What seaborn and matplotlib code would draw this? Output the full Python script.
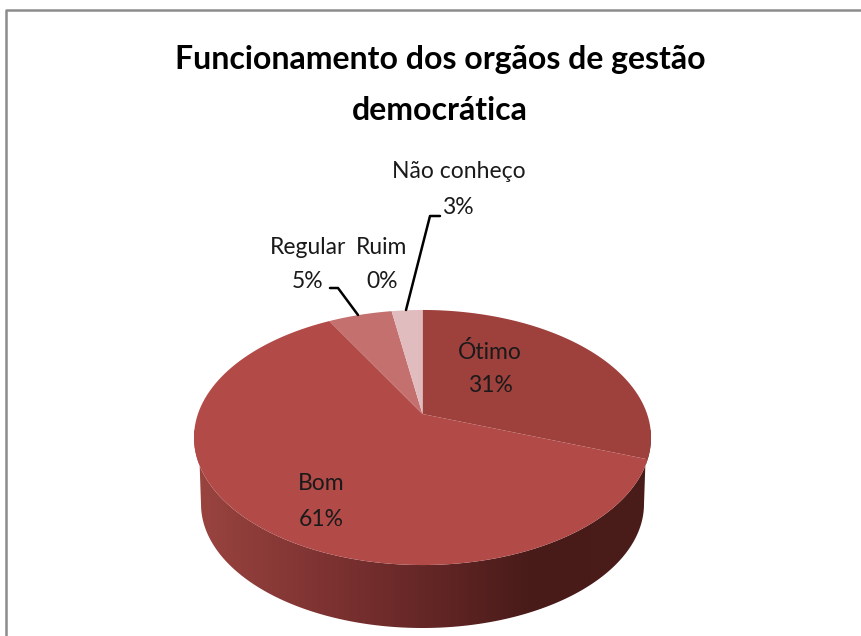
import numpy as np
import matplotlib
matplotlib.use('Agg')
import matplotlib.pyplot as plt
import seaborn as sns
from matplotlib.colors import LinearSegmentedColormap
from matplotlib.lines import Line2D
from matplotlib.patches import Polygon

categories = ['Ótimo', 'Bom', 'Regular', 'Ruim', 'Não conheço']
values = [30.6, 61.4, 5.4, 0, 2.6]
percent_labels = ['31%', '61%', '5%', '0%', '3%']
slice_colors = ['#9e403c', '#b24a48', '#c4706e', '#c79a98', '#e0bcbe']
title_lines = ['Funcionamento dos orgãos de gestão', 'democrática']

sns.set_theme(style='white')
plt.rcParams['font.family'] = ['Lato', 'DejaVu Sans']

fig = plt.figure(figsize=(8.62, 6.36), dpi=100)
ax = fig.add_axes([0, 0, 1, 1])

# pie gives the angles, the wedges are then tilted by hand for the 3d look
wedges, _ = ax.pie(values, colors=sns.color_palette(slice_colors), startangle=90, counterclock=False)
ax.set_aspect('auto')
ax.axis('off')

cx, cy = 422.5, 414
tilt, ky, kx = 0.1843, 123.2, 224.6


def project(theta):
    u, v = np.cos(np.radians(theta)), np.sin(np.radians(theta))
    w = 1 + tilt * v
    return cx + kx * u / w, cy - ky * v / w


# side of the pie
top_ang = np.linspace(180, 360, 200)
tx, ty = project(top_ang)
bot_ang = np.radians(np.linspace(360, 180, 200))
bx = 422.5 + 221.5 * np.cos(bot_ang)
by = 504 - 124 * np.sin(bot_ang)
side = Polygon(np.column_stack([np.r_[tx, bx], np.r_[ty, by]]), closed=True, fc='none', ec='none')
ax.add_patch(side)
side_cmap = LinearSegmentedColormap.from_list('side', [(0, '#9a443f'), (0.3, '#7c3231'), (0.58, '#5c2322'),
                                                       (0.74, '#481b19'), (1, '#4a1d1a')])
img = ax.imshow(np.linspace(0, 1, 460)[None, :], extent=(194, 651, 640, 430), cmap=side_cmap,
                aspect='auto', zorder=1)
img.set_clip_path(side)
ax.set_xlim(0, 862)
ax.set_ylim(636, 0)

for w in wedges:
    ang = np.linspace(w.theta1, w.theta2, 120)
    px, py = project(ang)
    w.remove()
    ax.add_patch(Polygon(np.column_stack([np.r_[cx, px], np.r_[cy, py]]), closed=True,
                         fc=w.get_facecolor(), ec='none', zorder=2))

# labels, name above the percent
label_pos = [(490, 352, 490, 386), (321, 484, 321, 519), (308, 248, 308, 282), (382, 248, 382, 282),
             (459, 172, 458, 208)]
for name, pct, (x1, y1, x2, y2) in zip(categories, percent_labels, label_pos):
    ax.text(x1, y1, name, ha='center', va='center', fontsize=16.5, color='#1a1a1a', zorder=4)
    ax.text(x2, y2, pct, ha='center', va='center', fontsize=16.5, color='#1a1a1a', zorder=4)

# leader lines
ax.plot([330, 338, 358], [288, 288, 315], color='black', lw=1.8, zorder=3)
ax.plot([440, 430, 406], [216, 216, 310], color='black', lw=1.8, zorder=3)

ax.text(440, 60, title_lines[0], ha='center', va='center', fontsize=23, fontweight='bold', color='black', zorder=4)
ax.text(440, 110, title_lines[1], ha='center', va='center', fontsize=23, fontweight='bold', color='black', zorder=4)

# chart frame
fig.add_artist(Line2D([6 / 862, 6 / 862, 1], [0, 1 - 10 / 636, 1 - 10 / 636], color='#8c8c8c', lw=1.8))

fig.savefig('out.png', dpi=100)
